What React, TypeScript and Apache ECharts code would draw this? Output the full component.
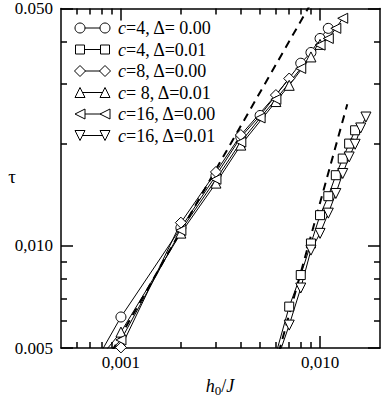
import React, { useEffect, useRef } from 'react';
import * as echarts from 'echarts';

// ---- data (h0/J, tau) ----
const hC4D0 = [0.0008, 0.001, 0.002, 0.003, 0.004, 0.005, 0.008, 0.009, 0.010, 0.011];
const tauC4D0 = [0.0049, 0.00617, 0.0113, 0.0161, 0.0209, 0.0242, 0.0345, 0.0371, 0.0408, 0.0437];

const hC4D1 = [0.006, 0.007, 0.008, 0.009, 0.010, 0.011, 0.012, 0.013, 0.014, 0.015];
const tauC4D1 = [0.0048, 0.00662, 0.0082, 0.01016, 0.01231, 0.0140, 0.01614, 0.01807, 0.0200, 0.02189];

const hC8D0 = [0.0008, 0.001, 0.002, 0.003, 0.004, 0.006, 0.007];
const tauC8D0 = [0.0040, 0.00502, 0.0117, 0.0165, 0.0212, 0.0278, 0.0311];

const hC8D1 = [0.0008, 0.001, 0.002, 0.003, 0.004, 0.006, 0.007, 0.009, 0.010];
const tauC8D1 = [0.00475, 0.00557, 0.0109, 0.0153, 0.0198, 0.0266, 0.0297, 0.0360, 0.0392];

const hC16D0 = [0.0008, 0.001, 0.002, 0.003, 0.004, 0.005, 0.006, 0.008, 0.010, 0.011, 0.012, 0.013];
const tauC16D0 = [0.00464, 0.00528, 0.0111, 0.0157, 0.0202, 0.0238, 0.0270, 0.0333, 0.0390, 0.0408, 0.0437, 0.0468];

const hC16D1 = [0.006, 0.007, 0.008, 0.009, 0.010, 0.011, 0.012, 0.013, 0.014, 0.015, 0.016, 0.017];
const tauC16D1 = [0.0045, 0.00584, 0.00751, 0.00971, 0.01088, 0.01248, 0.01426, 0.01633, 0.01827, 0.01991, 0.02224, 0.02395];

// reference power laws (dashed)
const hFitLeft = [0.0009, 0.009];
const tauFitLeft = [0.00488, 0.0518];
const hFitRight = [0.0062, 0.0137];
const tauFitRight = [0.00485, 0.0261];

// ---- axes ----
const xMin = 0.0005;
const xMax = 0.02;
const yMin = 0.005;
const yMax = 0.05;
const xTickValues = [0.001, 0.01];
const xTickLabels = ['0,001', '0,010'];
const yTickValues = [0.005, 0.01, 0.05];
const yTickLabels = ['0.005', '0,010', '0.050'];
const xMinorTicks = [0.0006, 0.0007, 0.0008, 0.0009, 0.002, 0.003, 0.004, 0.005, 0.006, 0.007, 0.008, 0.009];
const yMinorTicks = [0.006, 0.007, 0.008, 0.009, 0.02, 0.03, 0.04];

const legendLabels = [
  '{i|c}=4, Δ= 0.00',
  '{i|c}=4, Δ=0.01',
  '{i|c}=8, Δ=0.00',
  '{i|c}= 8, Δ=0.01',
  '{i|c}=16, Δ=0.00',
  '{i|c}=16, Δ=0.01',
];
const seriesNames = ['c=4, Δ=0.00', 'c=4, Δ=0.01', 'c=8, Δ=0.00', 'c=8, Δ=0.01', 'c=16, Δ=0.00', 'c=16, Δ=0.01'];

const FONT = 'Liberation Serif';

function lookup(values: number[], labels: string[]) {
  return (v: number) => {
    for (let i = 0; i < values.length; i++) {
      if (Math.abs(v - values[i]) / values[i] < 1e-6) return labels[i];
    }
    return '';
  };
}

function pairs(xs: number[], ys: number[]) {
  return xs.map((x, i) => [x, ys[i]]);
}

function mkSeries(name: string, xs: number[], ys: number[], symbol: string, size: number, rotate = 0) {
  return {
    type: 'line',
    name,
    data: pairs(xs, ys),
    symbol,
    symbolSize: size,
    symbolRotate: rotate,
    showAllSymbol: true,
    clip: true,
    itemStyle: { color: '#fff', borderColor: '#000', borderWidth: 1 },
    lineStyle: { color: '#000', width: 1 },
    emphasis: { disabled: true },
    z: 3,
  };
}

function mkFit(xs: number[], ys: number[]) {
  return {
    type: 'line',
    data: pairs(xs, ys),
    symbol: 'none',
    clip: true,
    lineStyle: { color: '#000', width: 2, type: [8, 6] },
    emphasis: { disabled: true },
    z: 2,
  };
}

const lineCol = { color: '#000', width: 1.5 };

function xAx(position: string, major: boolean) {
  return {
    type: 'log',
    logBase: 10,
    min: xMin,
    max: xMax,
    position,
    axisLine: { show: major, onZero: false, lineStyle: lineCol },
    axisTick: {
      show: true,
      inside: true,
      length: major ? 12 : 6,
      customValues: major ? xTickValues : xMinorTicks,
      lineStyle: lineCol,
    },
    axisLabel: {
      show: major && position === 'bottom',
      customValues: xTickValues,
      formatter: lookup(xTickValues, xTickLabels),
      fontSize: 17,
      fontFamily: FONT,
      color: '#000',
      margin: 6,
    },
    splitLine: { show: false },
    minorTick: { show: false },
    minorSplitLine: { show: false },
  };
}

function yAx(position: string, major: boolean) {
  return {
    type: 'log',
    logBase: 10,
    min: yMin,
    max: yMax,
    position,
    axisLine: { show: major, onZero: false, lineStyle: lineCol },
    axisTick: {
      show: true,
      inside: true,
      length: major ? 12 : 6,
      customValues: major ? yTickValues : yMinorTicks,
      lineStyle: lineCol,
    },
    axisLabel: {
      show: major && position === 'left',
      customValues: yTickValues,
      formatter: lookup(yTickValues, yTickLabels),
      fontSize: 17,
      fontFamily: FONT,
      color: '#000',
      margin: 8,
    },
    splitLine: { show: false },
    minorTick: { show: false },
    minorSplitLine: { show: false },
  };
}

function legendMarker(kind: string, x: number, y: number) {
  const style = { fill: '#fff', stroke: '#000', lineWidth: 1 };
  const r = 5;
  if (kind === 'circle') return { type: 'circle', shape: { cx: x, cy: y, r }, style, z: 10 };
  if (kind === 'square') return { type: 'rect', shape: { x: x - 4.5, y: y - 4.5, width: 9, height: 9 }, style, z: 10 };
  if (kind === 'diamond')
    return { type: 'polygon', shape: { points: [[x, y - 5.5], [x + 5.5, y], [x, y + 5.5], [x - 5.5, y]] }, style, z: 10 };
  if (kind === 'up')
    return { type: 'polygon', shape: { points: [[x, y - 5], [x + 5, y + 5], [x - 5, y + 5]] }, style, z: 10 };
  if (kind === 'left')
    return { type: 'polygon', shape: { points: [[x - 5, y], [x + 5, y - 5], [x + 5, y + 5]] }, style, z: 10 };
  return { type: 'polygon', shape: { points: [[x, y + 5], [x + 5, y - 5], [x - 5, y - 5]] }, style, z: 10 };
}

const legendKinds = ['circle', 'square', 'diamond', 'up', 'left', 'down'];

export default function App() {
  const ref = useRef<HTMLDivElement>(null);
  useEffect(() => {
    if (!ref.current) return;
    const chart = echarts.init(ref.current, undefined, { renderer: 'svg' });

    const graphics: any[] = [];
    legendLabels.forEach((lab, i) => {
      const y = 28 + i * 21.5;
      graphics.push({ type: 'line', shape: { x1: 80, y1: y, x2: 105, y2: y }, style: { stroke: '#000', lineWidth: 1 }, z: 9 });
      graphics.push(legendMarker(legendKinds[i], 80, y));
      graphics.push(legendMarker(legendKinds[i], 105, y));
      graphics.push({
        type: 'text',
        x: 118,
        y,
        z: 10,
        style: {
          text: lab,
          fontSize: 18,
          fontFamily: FONT,
          fill: '#000',
          verticalAlign: 'middle',
          rich: { i: { fontStyle: 'italic', fontSize: 18, fontFamily: FONT, fill: '#000' } },
        },
      });
    });
    graphics.push({
      type: 'text',
      x: 12,
      y: 176,
      style: { text: 'τ', fontSize: 19, fontFamily: FONT, fill: '#000', align: 'center', verticalAlign: 'middle' },
    });
    graphics.push({
      type: 'text',
      x: 220,
      y: 386,
      style: {
        text: '{i|h}{s|0}{n|/}{i|J}',
        fontSize: 18,
        fontFamily: FONT,
        fill: '#000',
        align: 'center',
        verticalAlign: 'middle',
        rich: {
          i: { fontStyle: 'italic', fontSize: 18, fontFamily: FONT, fill: '#000' },
          n: { fontSize: 18, fontFamily: FONT, fill: '#000' },
          s: { fontSize: 13, fontFamily: FONT, fill: '#000', verticalAlign: 'bottom', padding: [8, 0, 0, 0] },
        },
      },
    });

    chart.setOption({
      animation: false,
      backgroundColor: '#fff',
      grid: { left: 61, top: 8, right: 2, bottom: 49, containLabel: false },
      xAxis: [xAx('bottom', true), xAx('bottom', false), xAx('top', true), xAx('top', false)],
      yAxis: [yAx('left', true), yAx('left', false), yAx('right', true), yAx('right', false)],
      series: [
        mkFit(hFitLeft, tauFitLeft),
        mkFit(hFitRight, tauFitRight),
        mkSeries(seriesNames[0], hC4D0, tauC4D0, 'circle', 10),
        mkSeries(seriesNames[1], hC4D1, tauC4D1, 'rect', 9),
        mkSeries(seriesNames[2], hC8D0, tauC8D0, 'diamond', 11),
        mkSeries(seriesNames[3], hC8D1, tauC8D1, 'triangle', 10),
        mkSeries(seriesNames[4], hC16D0, tauC16D0, 'triangle', 10, 90),
        mkSeries(seriesNames[5], hC16D1, tauC16D1, 'triangle', 10, 180),
      ],
      graphic: graphics,
    });
    return () => chart.dispose();
  }, []);
  return <div ref={ref} style={{ position: 'fixed', left: 0, top: 0, width: 382, height: 397 }} />;
}
